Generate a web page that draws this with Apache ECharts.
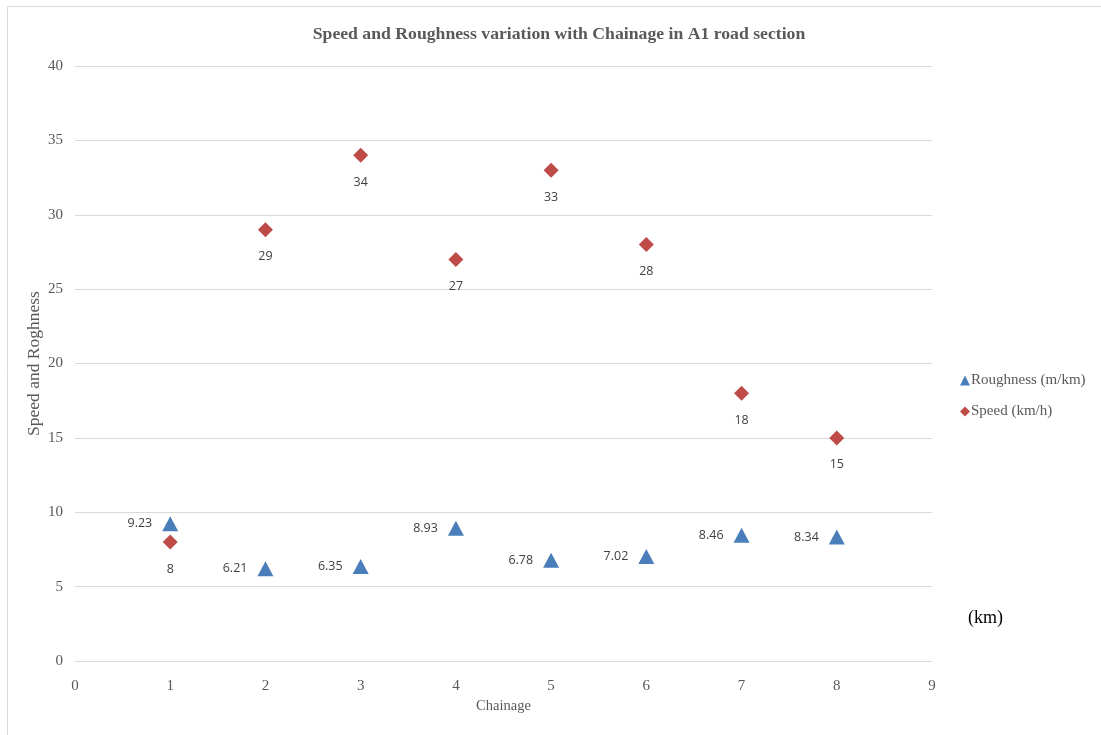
<!DOCTYPE html>
<html>
<head>
<meta charset="utf-8">
<script src="https://cdn.jsdelivr.net/npm/echarts@6/dist/echarts.min.js"></script>
<style>html,body{margin:0;padding:0;background:#fff}#c{width:1101px;height:735px}</style>
</head>
<body>
<div id="c"></div>
<script>
const chainage = [1, 2, 3, 4, 5, 6, 7, 8];
const roughness = [9.23, 6.21, 6.35, 8.93, 6.78, 7.02, 8.46, 8.34];
const speed = [8, 29, 34, 27, 33, 28, 18, 15];
const titleText = 'Speed and Roughness variation with Chainage in A1 road section';
const roughName = 'Roughness (m/km)';
const speedName = 'Speed (km/h)';

const serif = '"Liberation Serif", "DejaVu Serif", serif';
const sans = '"Open Sans", "Noto Sans", sans-serif';

const chart = echarts.init(document.getElementById('c'));
chart.setOption({
  animation: false,
  backgroundColor: '#fff',
  title: {
    text: titleText,
    left: 554, top: 20, textAlign: 'center',
    textStyle: {fontFamily: serif, fontSize: 17.7, fontWeight: 'bold', color: '#595959'}
  },
  grid: {left: 75, right: 169, top: 66, bottom: 74, containLabel: false},
  legend: {
    orient: 'vertical', left: 955, top: 368, itemGap: 16,
    itemWidth: 10, itemHeight: 10,
    textStyle: {fontFamily: serif, fontSize: 15, color: '#595959', padding: [0,0,0,-4]},
    data: [{name: roughName, icon: 'triangle'}, {name: speedName, icon: 'diamond'}]
  },
  xAxis: {
    type: 'value', min: 0, max: 9, interval: 1,
    name: 'Chainage', nameLocation: 'middle', nameGap: 38,
    nameTextStyle: {fontFamily: serif, fontSize: 14.5, color: '#595959'},
    axisLine: {show: false}, axisTick: {show: false}, splitLine: {show: false},
    axisLabel: {fontFamily: serif, fontSize: 15, color: '#595959', margin: 18}
  },
  yAxis: {
    type: 'value', min: 0, max: 40, interval: 5,
    name: 'Speed and Roghness', nameLocation: 'middle', nameGap: 32, nameMoveOverlap: false,
    nameTextStyle: {fontFamily: serif, fontSize: 17.5, color: '#595959'},
    axisLine: {show: false}, axisTick: {show: false},
    splitLine: {lineStyle: {color: '#d9d9d9', width: 1}},
    axisLabel: {fontFamily: serif, fontSize: 15, color: '#595959', margin: 12}
  },
  series: [
    {
      name: roughName, type: 'scatter', symbol: 'triangle', symbolSize: [16, 15],
      itemStyle: {color: '#4A7EBB', opacity: 1},
      data: chainage.map((c, i) => [c, roughness[i]]),
      label: {show: true, position: 'left', distance: 10, fontFamily: sans, fontSize: 12.5, color: '#404040',
        formatter: p => p.value[1].toFixed(2)}
    },
    {
      name: speedName, type: 'scatter', symbol: 'diamond', symbolSize: [15, 15],
      itemStyle: {color: '#BE4B48', opacity: 1},
      data: chainage.map((c, i) => [c, speed[i]]),
      label: {show: true, position: 'bottom', distance: 13, fontFamily: sans, fontSize: 12.5, color: '#404040',
        formatter: p => String(p.value[1])}
    }
  ],
  graphic: [
    {type: 'line', shape: {x1: 7.5, y1: 6.5, x2: 1101, y2: 6.5}, style: {stroke: '#d9d9d9', lineWidth: 1}},
    {type: 'line', shape: {x1: 7.5, y1: 6.5, x2: 7.5, y2: 735}, style: {stroke: '#d9d9d9', lineWidth: 1}},
    {type: 'text', left: 968, top: 609, style: {text: '(km)', font: '18px ' + serif, fill: '#000'}}
  ]
});
</script>
</body>
</html>
